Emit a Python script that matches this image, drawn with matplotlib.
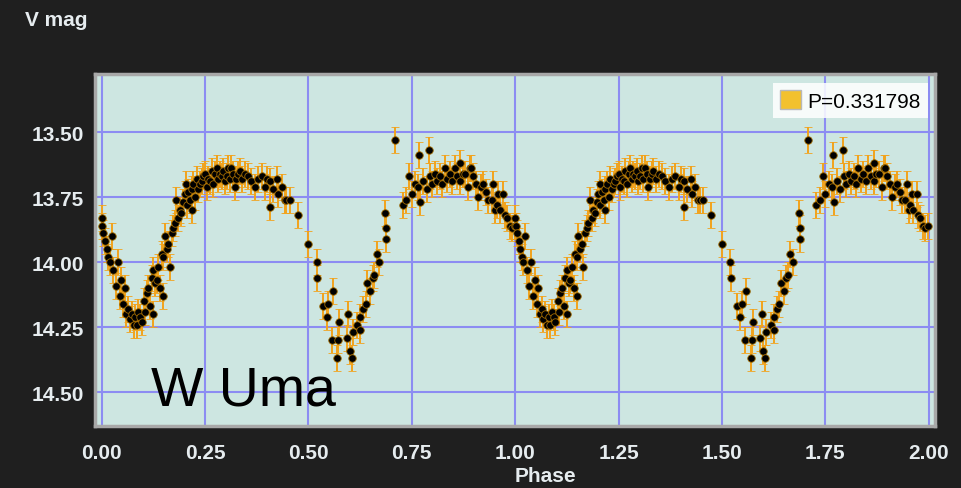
import numpy as np
import matplotlib
matplotlib.use('Agg')
import matplotlib.pyplot as plt
from matplotlib.patches import Patch

# phase-folded V magnitudes of W UMa (one cycle, drawn twice)
phase = [
    0.000, 0.001, 0.004, 0.008, 0.012, 0.016, 0.020, 0.024, 0.028, 0.034,
    0.039, 0.044, 0.048, 0.052, 0.056, 0.060, 0.064, 0.068, 0.073, 0.078,
    0.081, 0.085, 0.089, 0.093, 0.097, 0.103, 0.105, 0.109, 0.113, 0.117,
    0.121, 0.125, 0.125, 0.129, 0.133, 0.137, 0.141, 0.145, 0.149, 0.149,
    0.153, 0.157, 0.161, 0.165, 0.169, 0.173, 0.177, 0.181, 0.185, 0.189,
    0.193, 0.197, 0.201, 0.205, 0.206, 0.210, 0.214, 0.218, 0.218, 0.222,
    0.226, 0.230, 0.234, 0.238, 0.242, 0.246, 0.250, 0.254, 0.258, 0.262,
    0.266, 0.270, 0.274, 0.278, 0.282, 0.286, 0.290, 0.294, 0.298, 0.302,
    0.306, 0.310, 0.314, 0.318, 0.322, 0.326, 0.330, 0.334, 0.340, 0.347,
    0.355, 0.362, 0.371, 0.379, 0.387, 0.395, 0.401, 0.407, 0.407, 0.415,
    0.425, 0.427, 0.435, 0.443, 0.447, 0.455, 0.474, 0.500, 0.520, 0.521,
    0.536, 0.544, 0.548, 0.556, 0.559, 0.570, 0.572, 0.575, 0.593, 0.596,
    0.600, 0.605, 0.607, 0.618, 0.625, 0.625, 0.632, 0.639, 0.642, 0.650,
    0.655, 0.659, 0.665, 0.671, 0.685, 0.688, 0.688, 0.709, 0.728, 0.737,
    0.744, 0.750, 0.758, 0.766, 0.768, 0.770, 0.778, 0.786, 0.792, 0.794,
    0.800, 0.806, 0.812, 0.818, 0.824, 0.830, 0.836, 0.842, 0.848, 0.854,
    0.860, 0.867, 0.867, 0.873, 0.879, 0.887, 0.891, 0.894, 0.899, 0.905,
    0.911, 0.918, 0.923, 0.930, 0.935, 0.943, 0.947, 0.951, 0.955, 0.959,
    0.963, 0.971, 0.975, 0.979, 0.987, 0.992, 0.999,
]
vmag = [
    13.83, 13.86, 13.89, 13.92, 13.95, 13.98, 14.00, 13.90, 14.03, 14.09,
    14.00, 14.13, 14.07, 14.16, 14.10, 14.20, 14.18, 14.22, 14.20, 14.24,
    14.21, 14.24, 14.19, 14.21, 14.23, 14.15, 14.19, 14.12, 14.10, 14.17,
    14.06, 14.20, 14.03, 14.08, 14.07, 14.02, 14.10, 13.97, 14.13, 13.98,
    13.90, 13.95, 13.93, 14.02, 13.89, 13.87, 13.85, 13.76, 13.83, 13.80,
    13.81, 13.77, 13.74, 13.70, 13.78, 13.73, 13.76, 13.80, 13.72, 13.70,
    13.75, 13.68, 13.72, 13.70, 13.69, 13.67, 13.66, 13.71, 13.68, 13.69,
    13.65, 13.70, 13.66, 13.64, 13.68, 13.66, 13.67, 13.65, 13.69, 13.67,
    13.64, 13.68, 13.64, 13.66, 13.71, 13.68, 13.66, 13.65, 13.68, 13.66,
    13.67, 13.69, 13.71, 13.68, 13.67, 13.71, 13.68, 13.69, 13.79, 13.72,
    13.68, 13.74, 13.71, 13.76, 13.76, 13.76, 13.82, 13.93, 14.00, 14.06,
    14.17, 14.21, 14.16, 14.30, 14.11, 14.37, 14.30, 14.23, 14.29, 14.20,
    14.34, 14.37, 14.27, 14.24, 14.21, 14.26, 14.18, 14.16, 14.08, 14.11,
    14.06, 14.05, 13.97, 14.00, 13.81, 13.87, 13.91, 13.53, 13.78, 13.76,
    13.67, 13.74, 13.70, 13.71, 13.59, 13.77, 13.69, 13.72, 13.57, 13.67,
    13.70, 13.66, 13.69, 13.67, 13.70, 13.64, 13.68, 13.66, 13.69, 13.64,
    13.67, 13.62, 13.69, 13.66, 13.66, 13.71, 13.64, 13.64, 13.67, 13.70,
    13.75, 13.71, 13.70, 13.73, 13.76, 13.76, 13.70, 13.80, 13.78, 13.74,
    13.80, 13.74, 13.82, 13.83, 13.86, 13.87, 13.86,
]
mag_err = 0.05
period_label = 'P=0.331798'
star_name = 'W Uma'
x_ticks = [0.0, 0.25, 0.5, 0.75, 1.0, 1.25, 1.5, 1.75, 2.0]
y_ticks = [13.5, 13.75, 14.0, 14.25, 14.5]

plt.rcParams['font.family'] = ['Liberation Sans', 'DejaVu Sans']

bg = '#1f1f1f'
fg = '#e6ecef'
fig = plt.figure(figsize=(9.61, 4.89), dpi=100, facecolor=bg)
ax = fig.add_axes([95 / 961, 1 - 427 / 489, 840 / 961, 352 / 489])
ax.set_facecolor('#cde6e1')

ph = np.array(phase)
mg = np.array(vmag)
for shift in (0, 1):
    ax.errorbar(ph + shift, mg, yerr=mag_err, fmt='o', color='black',
                ms=5.4, mec='#a06a00', mew=0.6,
                ecolor='#f2a31c', elinewidth=1.4, capsize=3.0, capthick=1.4,
                zorder=3)

ax.set_xlim(-0.016, 2.015)
ax.set_ylim(14.63, 13.277)
ax.set_xticks(x_ticks)
ax.set_yticks(y_ticks)
ax.set_xticklabels(['%.2f' % t for t in x_ticks])
ax.set_yticklabels(['%.2f' % t for t in y_ticks])
ax.grid(True, color='#8c8cf2', linewidth=1.5, zorder=1)
ax.set_axisbelow(True)
ax.tick_params(length=0, labelsize=15, labelcolor=fg)
ax.tick_params(axis='x', pad=12)
ax.tick_params(axis='y', pad=8)
for lab in ax.get_xticklabels() + ax.get_yticklabels():
    lab.set_fontweight('bold')
for sp in ax.spines.values():
    sp.set_color('#a8a8a8')
    sp.set_linewidth(2.5)

ax.text(0.12, 14.546, star_name, fontsize=40, color='black', va='baseline')

handle = Patch(facecolor='#f2c12e', edgecolor='#b8b8b8', linewidth=1)
leg = ax.legend([handle], [period_label], loc='upper right',
                bbox_to_anchor=(928 / 961, 1 - 84 / 489),
                bbox_transform=fig.transFigure,
                fontsize=15, frameon=True, fancybox=False,
                handlelength=1.0, handleheight=1.0, handletextpad=0.3,
                borderpad=0.35, borderaxespad=0)
leg.get_frame().set_facecolor('white')
leg.get_frame().set_alpha(0.85)
leg.get_frame().set_edgecolor('none')

fig.text(25 / 961, 1 - 20 / 489, 'V mag', color=fg, fontsize=15,
         fontweight='bold', va='center', ha='left')
fig.text(545 / 961, 1 - 477 / 489, 'Phase', color=fg, fontsize=15,
         fontweight='bold', va='center', ha='center')

fig.savefig('out.png', dpi=100, facecolor=bg)
